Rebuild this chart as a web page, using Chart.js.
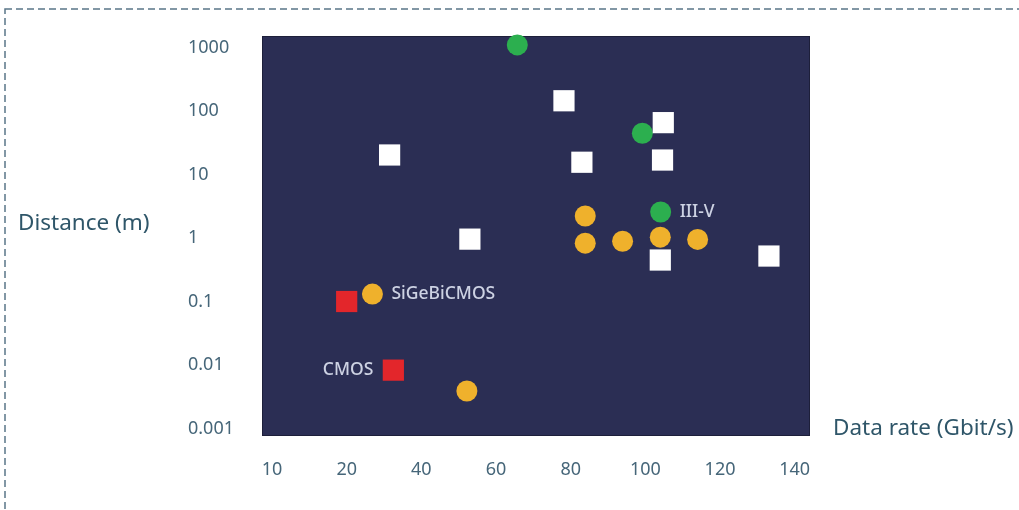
<!DOCTYPE html>
<html>
<head>
<meta charset="utf-8">
<script src="https://cdn.jsdelivr.net/npm/chart.js@4.4.1/dist/chart.umd.min.js"></script>
<style>
  html, body { margin: 0; padding: 0; background: #ffffff; }
  #wrap { position: relative; width: 1019px; height: 510px; }
</style>
</head>
<body>
<div id="wrap"><canvas id="c"></canvas></div>
<script>
// ---- Data ----
const otherX = [78.2, 104.8, 104.6, 83.0, 31.5, 53.0, 104.0, 133.1];
const otherY = [145, 65.6, 16.9, 15.6, 20.3, 0.96, 0.45, 0.52];

const iiivX = [65.7, 99.2, 104.1];
const iiivY = [1100, 44.6, 2.57];

const sigeX = [83.9, 83.9, 93.9, 104.0, 114.0, 26.9, 52.2];
const sigeY = [2.22, 0.83, 0.89, 1.03, 0.95, 0.131, 0.0039];

const cmosX = [20.0, 32.5];
const cmosY = [0.10, 0.0083];

const xTickValues = [0, 20, 40, 60, 80, 100, 120, 140];
const xTickLabels = ['10', '20', '40', '60', '80', '100', '120', '140'];
const yTickValues = [1000, 100, 10, 1, 0.1, 0.01, 0.001];
const yTickLabels = ['1000', '100', '10', '1', '0.1', '0.01', '0.001'];

const xTitle = 'Data rate (Gbit/s)';
const yTitle = 'Distance (m)';

// labels attached to series points: [text, datasetIndex, pointIndex, side]
const pointLabels = [
  ['III-V', 1, 2, 'right'],
  ['SiGeBiCMOS', 2, 5, 'right'],
  ['CMOS', 3, 1, 'left']
];

const pts = (xs, ys) => xs.map((x, i) => ({ x: x, y: ys[i] }));

const FONT = "'Noto Sans', 'Open Sans', sans-serif";
const TICK_COLOR = '#466679';
const TITLE_COLOR = '#2f5669';

const decor = {
  id: 'decor',
  beforeDraw(chart) {
    const ctx = chart.ctx;
    const a = chart.chartArea;
    ctx.save();
    // dashed frame
    ctx.strokeStyle = '#5a7588';
    ctx.lineWidth = 1.5;
    ctx.setLineDash([7, 4]);
    ctx.strokeRect(5, 9, 1200, 700);
    ctx.setLineDash([]);
    // plot background
    ctx.fillStyle = '#2b2e54';
    ctx.fillRect(a.left, a.top, a.right - a.left, a.bottom - a.top);
    ctx.strokeStyle = '#1d1f3a';
    ctx.lineWidth = 1;
    ctx.strokeRect(a.left + 0.5, a.top + 0.5, a.right - a.left - 1, a.bottom - a.top - 1);
    ctx.restore();
  },
  afterDraw(chart) {
    const ctx = chart.ctx;
    const a = chart.chartArea;
    ctx.save();
    ctx.fillStyle = TITLE_COLOR;
    ctx.font = '22.5px ' + FONT;
    ctx.textBaseline = 'middle';
    ctx.textAlign = 'left';
    ctx.fillText(yTitle, 18, a.top + (a.bottom - a.top) / 2 - 12);
    ctx.fillText(xTitle, a.right + 23, a.bottom - 7);

    ctx.font = '500 17.5px ' + FONT;
    ctx.fillStyle = '#cdd2e3';
    pointLabels.forEach(([txt, ds, idx, side]) => {
      const el = chart.getDatasetMeta(ds).data[idx];
      if (!el) return;
      if (side === 'right') {
        ctx.textAlign = 'left';
        ctx.fillText(txt, el.x + 19, el.y);
      } else {
        ctx.textAlign = 'right';
        ctx.fillText(txt, el.x - 20, el.y);
      }
    });
    ctx.restore();
  }
};

new Chart(document.getElementById('c'), {
  type: 'scatter',
  data: {
    datasets: [
      { label: 'Other', data: pts(otherX, otherY), pointStyle: 'rect', pointRadius: 15, pointHoverRadius: 15,
        backgroundColor: '#ffffff', borderWidth: 0 },
      { label: 'III-V', data: pts(iiivX, iiivY), pointStyle: 'circle', pointRadius: 10.5, pointHoverRadius: 10.5,
        backgroundColor: '#2caf4f', borderWidth: 0 },
      { label: 'SiGeBiCMOS', data: pts(sigeX, sigeY), pointStyle: 'circle', pointRadius: 10.5, pointHoverRadius: 10.5,
        backgroundColor: '#efb12c', borderWidth: 0 },
      { label: 'CMOS', data: pts(cmosX, cmosY), pointStyle: 'rect', pointRadius: 15, pointHoverRadius: 15,
        backgroundColor: '#e3262b', borderWidth: 0 }
    ]
  },
  options: {
    responsive: true,
    maintainAspectRatio: false,
    animation: false,
    clip: false,
    layout: { padding: { left: 188, right: 209, top: 36, bottom: 0 } },
    plugins: { legend: { display: false }, tooltip: { enabled: false } },
    scales: {
      x: {
        type: 'linear',
        min: -2.68,
        max: 144.1,
        grid: { display: false, drawTicks: false },
        border: { display: false },
        afterBuildTicks: (s) => { s.ticks = xTickValues.map(v => ({ value: v })); },
        afterFit: (s) => { s.height = 74; },
        ticks: {
          autoSkip: false,
          maxRotation: 0,
          padding: 23,
          color: TICK_COLOR,
          font: { family: FONT, size: 18 },
          callback: (v, i) => xTickLabels[i]
        }
      },
      y: {
        type: 'logarithmic',
        min: 0.000762,
        max: 1518,
        grid: { display: false, drawTicks: false },
        border: { display: false },
        afterBuildTicks: (s) => { s.ticks = yTickValues.map(v => ({ value: v })); },
        afterFit: (s) => { s.width = 74; },
        ticks: {
          autoSkip: false,
          crossAlign: 'far',
          padding: 0,
          color: TICK_COLOR,
          font: { family: FONT, size: 18 },
          callback: (v, i) => yTickLabels[i]
        }
      }
    }
  },
  plugins: [decor]
});
</script>
</body>
</html>
